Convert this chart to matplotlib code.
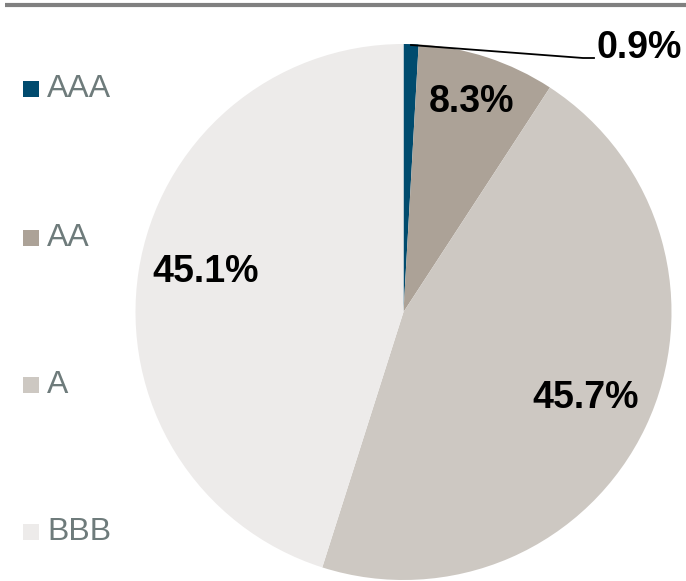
import matplotlib
matplotlib.use("Agg")
import matplotlib.pyplot as plt
from matplotlib.patches import Rectangle

categories = ["AAA", "AA", "A", "BBB"]
values = [0.9, 8.3, 45.7, 45.1]
colors = ["#004B6E", "#ACA297", "#CDC8C2", "#EDEBEA"]

W, H = 686, 581
plt.rcParams['font.family'] = ['Liberation Sans', 'DejaVu Sans']

fig = plt.figure(figsize=(W / 100, H / 100), dpi=100)
ax = fig.add_axes([0, 0, 1, 1])
ax.set_xlim(0, W)
ax.set_ylim(0, H)
ax.set_aspect('equal')
ax.axis('off')

def Y(y):
    return H - y

cx, cy, r = 403.5, 312, 268
wedges, _ = ax.pie(values, colors=colors, startangle=90, counterclock=False,
                   center=(cx, Y(cy)), radius=r, frame=True,
                   wedgeprops=dict(linewidth=0))
ax.set_xlim(0, W)
ax.set_ylim(0, H)
ax.axis('off')

# top rule
ax.plot([5, W], [Y(5), Y(5)], color="#808080", lw=3, solid_capstyle='butt',
        clip_on=False)

# percentage labels
label_pos = [(639, 48), (472, 102), (586, 398), (206, 272)]
for v, (lx, ly) in zip(values, label_pos):
    ax.text(lx, Y(ly), f"{v:.1f}%", ha='center', va='center',
            fontsize=27, fontweight='bold', color='black')

# leader line for smallest slice
ax.plot([411, 583, 594], [Y(45), Y(58), Y(58)], color='black', lw=1.3)

# legend
leg_y = [89, 238, 385, 532]
for cat, col, ly in zip(categories, colors, leg_y):
    ax.add_patch(Rectangle((23, Y(ly) - 8), 16, 16, facecolor=col,
                           edgecolor='none'))
    ax.text(47, Y(ly), cat, ha='left', va='center', fontsize=23,
            color="#6E7B7B")

fig.savefig("out.png", dpi=100)
